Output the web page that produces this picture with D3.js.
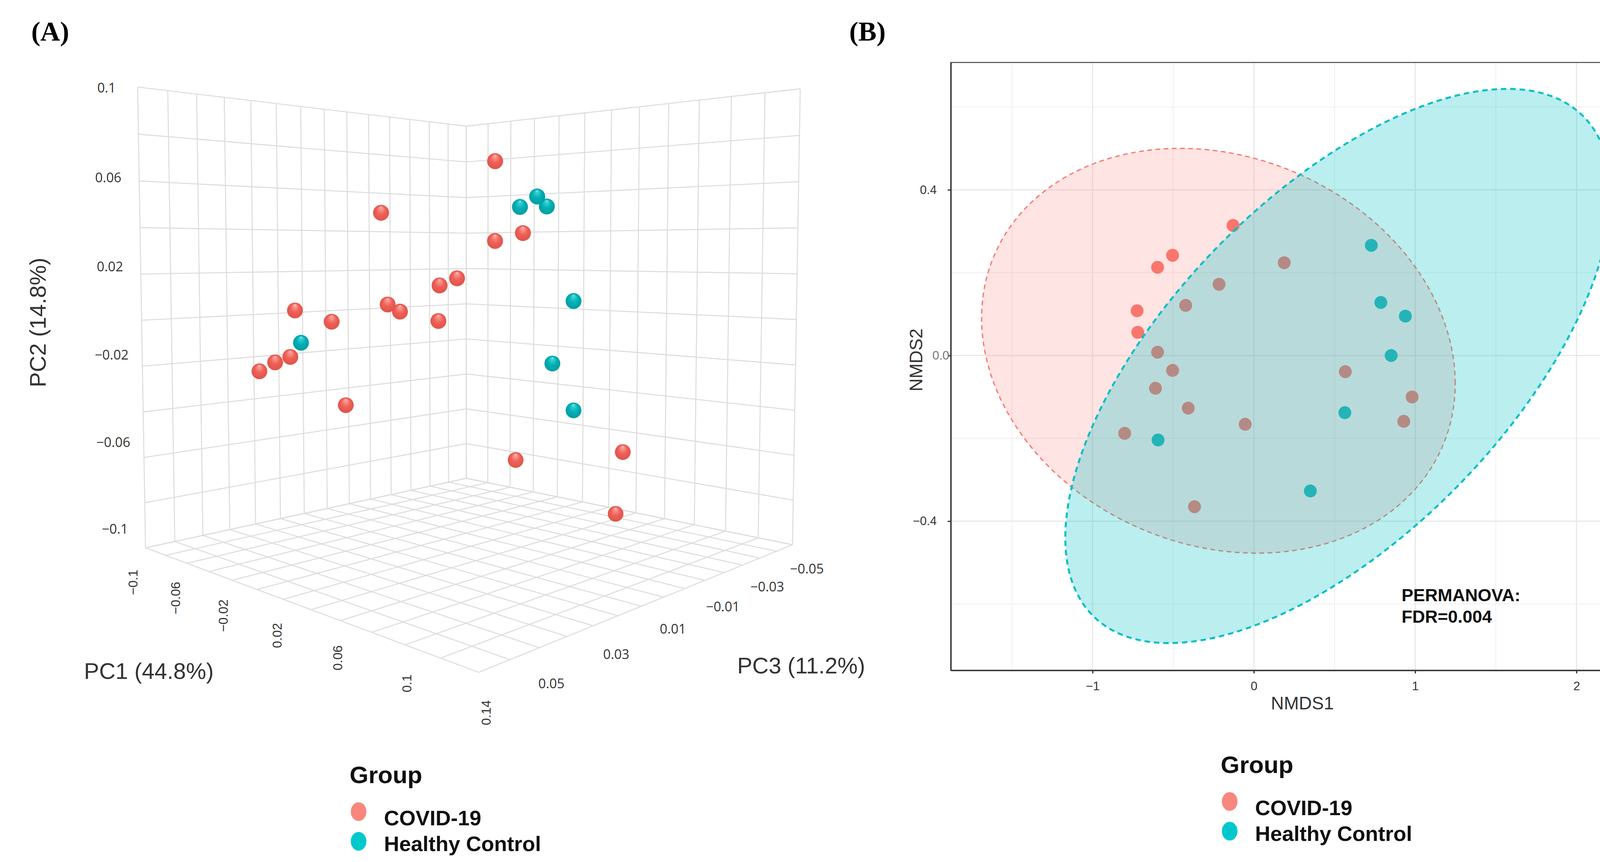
<!DOCTYPE html>
<html>
<head>
<meta charset="utf-8">
<script src="https://cdn.jsdelivr.net/npm/d3@7"></script>
<style>
  body { margin: 0; background: #fff; }
</style>
</head>
<body>
<svg id="fig" width="4244" height="2208"></svg>
<script>
'use strict'

// ---------- data ----------
const groups = ['COVID-19', 'Healthy Control']

// panel A: PCoA scores (PC1 44.8%, PC2 14.8%, PC3 11.2%)
const pcoaGroup = [
  'COVID-19', 'COVID-19', 'COVID-19', 'COVID-19', 'COVID-19', 'COVID-19',
  'COVID-19', 'COVID-19', 'COVID-19', 'COVID-19', 'COVID-19', 'COVID-19',
  'COVID-19', 'COVID-19', 'COVID-19', 'COVID-19', 'COVID-19', 'COVID-19',
  'Healthy Control', 'Healthy Control', 'Healthy Control', 'Healthy Control',
  'Healthy Control', 'Healthy Control', 'Healthy Control',
]
const pcoaPC1 = [
  -0.0132, 0.0149, 0.0084, -0.0455, -0.0109, -0.0064, 0.0079, -0.0319, -0.0474,
  -0.0531, -0.0590, -0.0268, 0.0290, 0.0394, 0.0290, 0.0771, 0.0369, 0.0746,
  -0.0433, 0.0446, 0.0382, 0.0482, 0.0583, 0.0505, 0.0585,
]
const pcoaPC2 = [
  0.0465, 0.0181, 0.0150, 0.0041, 0.0067, 0.0036, -0.0005, -0.0008, -0.0162,
  -0.0186, -0.0225, -0.0374, 0.0687, 0.0377, 0.0343, -0.0581, -0.0616, -0.0855,
  -0.0100, 0.0535, 0.0490, 0.0492, 0.0082, -0.0191, -0.0397,
]
const pcoaPC3 = [
  0.0188, 0.0054, 0.0085, 0.0341, 0.0177, 0.0155, 0.0087, 0.0276, 0.0350,
  0.0377, 0.0405, 0.0252, -0.0013, -0.0062, -0.0013, -0.0241, -0.0050, -0.0229,
  0.0331, -0.0087, -0.0057, -0.0104, -0.0152, -0.0115, -0.0153,
]
const pc1Ticks = [-0.1, -0.06, -0.02, 0.02, 0.06, 0.1, 0.14]
const pc2Ticks = [0.1, 0.06, 0.02, -0.02, -0.06, -0.1]
const pc3Ticks = [-0.05, -0.03, -0.01, 0.01, 0.03, 0.05]

// panel B: NMDS scores
const nmdsGroup = pcoaGroup
const nmds1 = [
  -0.129, -0.504, -0.597, -0.216, 0.188, -0.423, -0.724, -0.720, -0.597,
  -0.504, -0.610, -0.407, -0.801, -0.054, -0.368, 0.567, 0.981, 0.929,
  0.728, 0.787, 0.939, 0.851, 0.564, -0.594, 0.350,
]
const nmds2 = [
  0.314, 0.242, 0.213, 0.172, 0.224, 0.121, 0.108, 0.056, 0.008,
  -0.036, -0.079, -0.127, -0.188, -0.166, -0.365, -0.039, -0.100, -0.159,
  0.266, 0.128, 0.095, 0.000, -0.138, -0.204, -0.327,
]
// 95% ellipses: centre, half extents and correlation, per group
const ellipseCx = [-0.220, 0.522]
const ellipseCy = [0.0115, -0.0253]
const ellipseRx = [1.468, 1.691]
const ellipseRy = [0.4886, 0.669]
const ellipseRho = [-0.162, 0.62]
const nmds1Ticks = [-1, 0, 1, 2]
const nmds1Minor = [-1.5, -0.5, 0.5, 1.5]
const nmds2Ticks = [-0.4, 0, 0.4]
const nmds2Minor = [-0.6, -0.2, 0.2, 0.6]

// ---------- page ----------
const svg = d3.select('#fig')
svg.append('rect').attr('width', 4244).attr('height', 2208).attr('fill', '#fff')
const defs = svg.append('defs')

const minus = v => (v < 0 ? '\u2212' : '') + Math.abs(v)

svg.append('text').text('(A)')
  .attr('x', 80).attr('y', 104)
  .attr('font-family', 'Liberation Serif').attr('font-weight', 'bold').attr('font-size', 70)
svg.append('text').text('(B)')
  .attr('x', 2174).attr('y', 104)
  .attr('font-family', 'Liberation Serif').attr('font-weight', 'bold').attr('font-size', 70)

// ---------- panel A: 3D PCoA ----------
const pc1Scale = d3.scaleLinear().domain([-0.1, 0.14]).range([-1, 1])
const pc2Scale = d3.scaleLinear().domain([-0.1, 0.1]).range([-1, 1])
const pc3Scale = d3.scaleLinear().domain([-0.056, 0.062]).range([-1, 1])

// perspective camera looking at the back corner of the box
const cam = {azimuth: 44, pitch: 3.2, distance: 4.656, height: 0.3, fx: 2765, fy: 2744, cx: 1205, cy: 796}
const phi = cam.azimuth * Math.PI / 180
const tht = cam.pitch * Math.PI / 180
const eye = [cam.distance * Math.cos(phi), cam.distance * Math.sin(phi), cam.height]
const fwd = [-Math.cos(phi) * Math.cos(tht), -Math.sin(phi) * Math.cos(tht), -Math.sin(tht)]
const rgt = [-Math.sin(phi), Math.cos(phi), 0]
const upv = [-Math.cos(phi) * Math.sin(tht), -Math.sin(phi) * Math.sin(tht), Math.cos(tht)]
const dot = (a, b) => a[0] * b[0] + a[1] * b[1] + a[2] * b[2]

function project(w) {
  const r = [w[0] - eye[0], w[1] - eye[1], w[2] - eye[2]]
  const depth = dot(r, fwd)
  return {
    x: cam.cx + cam.fx * dot(r, rgt) / depth,
    y: cam.cy - cam.fy * dot(r, upv) / depth,
    depth: depth,
  }
}
// world axes: x = PC3, y = PC1, z = PC2
const toWorld = (p1, p2, p3) => [pc3Scale(p3), pc1Scale(p1), pc2Scale(p2)]

const pc1Grid = pc1Scale.ticks(12)
const pc2Grid = pc2Scale.ticks(10)
const pc3Dom = pc3Scale.domain()
const pc3Grid = d3.range(15).map(i => pc3Dom[0] + i * (pc3Dom[1] - pc3Dom[0]) / 14)

const segs = []
pc3Grid.forEach(v => {
  const x = pc3Scale(v)
  segs.push([[x, -1, -1], [x, -1, 1]])   // left wall
  segs.push([[x, -1, -1], [x, 1, -1]])   // floor
})
pc1Grid.forEach(v => {
  const y = pc1Scale(v)
  segs.push([[-1, y, -1], [-1, y, 1]])   // right wall
  segs.push([[-1, y, -1], [1, y, -1]])   // floor
})
pc2Grid.forEach(v => {
  const z = pc2Scale(v)
  segs.push([[-1, -1, z], [1, -1, z]])
  segs.push([[-1, -1, z], [-1, 1, z]])
})

const gA = svg.append('g').attr('class', 'panel-a')
gA.append('g').selectAll('line')
  .data(segs)
  .join('line')
  .attr('x1', d => project(d[0]).x).attr('y1', d => project(d[0]).y)
  .attr('x2', d => project(d[1]).x).attr('y2', d => project(d[1]).y)
  .attr('stroke', '#dcdcdc').attr('stroke-width', 2.6)

// sphere shading
const sphereStops = [
  ['#ffffff', '#f9a39c', '#ef6158', '#e0534a'],
  ['#ffffff', '#45d6d9', '#00b0b5', '#009ca1'],
]
groups.forEach((g, i) => {
  const grad = defs.append('radialGradient').attr('id', 'sphere' + i)
    .attr('cx', '50%').attr('cy', '50%').attr('r', '50%')
    .attr('fx', '50%').attr('fy', '14%')
  const s = sphereStops[i]
  grad.append('stop').attr('offset', '0').attr('stop-color', s[0])
  grad.append('stop').attr('offset', '0.09').attr('stop-color', s[1])
  grad.append('stop').attr('offset', '0.55').attr('stop-color', s[2])
  grad.append('stop').attr('offset', '1').attr('stop-color', s[3])
})

const sphereRadius = 0.0345
const pts = pcoaPC1.map((p1, i) => {
  const pr = project(toWorld(p1, pcoaPC2[i], pcoaPC3[i]))
  return {x: pr.x, y: pr.y, depth: pr.depth, g: groups.indexOf(pcoaGroup[i])}
}).sort((a, b) => b.depth - a.depth)

gA.append('g').selectAll('circle')
  .data(pts)
  .join('circle')
  .attr('cx', d => d.x).attr('cy', d => d.y)
  .attr('r', d => cam.fy * sphereRadius / d.depth)
  .attr('fill', d => 'url(#sphere' + d.g + ')')

// tick labels, anchored just outside the box edges
gA.append('g').selectAll('text')
  .data(pc2Ticks)
  .join('text')
  .each(function (v) {
    const p = project([1, -1.3, pc2Scale(v)])
    d3.select(this).attr('x', p.x + 8).attr('y', p.y - 17)
  })
  .attr('text-anchor', 'middle').attr('dominant-baseline', 'central')
  .attr('font-family', 'Open Sans').attr('font-size', 34).attr('fill', '#333')
  .text(minus)

gA.append('g').selectAll('text')
  .data(pc1Ticks)
  .join('text')
  .attr('transform', v => {
    const w = pc1Scale(v)
    const p = project([1.03, 1.06 * w, -1.13 + 0.03 * w])
    return 'translate(' + p.x + ',' + p.y + ') rotate(-90)'
  })
  .attr('text-anchor', 'middle').attr('dominant-baseline', 'central')
  .attr('font-family', 'Liberation Sans').attr('font-size', 33).attr('fill', '#333')
  .text(minus)

gA.append('g').selectAll('text')
  .data(pc3Ticks)
  .join('text')
  .each(function (v) {
    const p = project([pc3Scale(v), 1.12, -1.06])
    d3.select(this).attr('x', p.x).attr('y', p.y)
  })
  .attr('text-anchor', 'middle').attr('dominant-baseline', 'central')
  .attr('font-family', 'Open Sans').attr('font-size', 34).attr('fill', '#333')
  .text(minus)

// axis titles
const titleA = {'font-family': 'Liberation Sans', 'font-size': 58, 'fill': '#333'}
function styled(sel, st) {
  Object.keys(st).forEach(k => sel.attr(k, st[k]))
  return sel
}
styled(gA.append('text'), titleA).text('PC2 (14.8%)')
  .attr('text-anchor', 'middle').attr('dominant-baseline', 'central')
  .attr('transform', 'translate(96,826) rotate(-90)')
styled(gA.append('text'), titleA).text('PC1 (44.8%)')
  .attr('text-anchor', 'middle').attr('dominant-baseline', 'central')
  .attr('x', 381).attr('y', 1718)
styled(gA.append('text'), titleA).text('PC3 (11.2%)')
  .attr('text-anchor', 'middle').attr('dominant-baseline', 'central')
  .attr('x', 2051).attr('y', 1704)

// ---------- panel B: NMDS ----------
const xB = d3.scaleLinear().domain([-1.879, 2.429]).range([2434, 4213])
const yB = d3.scaleLinear().domain([-0.760, 0.7075]).range([1717, 160])
const groupColor = d3.scaleOrdinal().domain(groups).range(['#f8766d', '#00bfc4'])

const gB = svg.append('g').attr('class', 'panel-b')
const grid = gB.append('g')
grid.selectAll('.vminor').data(nmds1Minor).join('line')
  .attr('x1', d => xB(d)).attr('x2', d => xB(d)).attr('y1', yB.range()[0]).attr('y2', yB.range()[1])
  .attr('stroke', '#efefef').attr('stroke-width', 2)
grid.selectAll('.hminor').data(nmds2Minor).join('line')
  .attr('y1', d => yB(d)).attr('y2', d => yB(d)).attr('x1', xB.range()[0]).attr('x2', xB.range()[1])
  .attr('stroke', '#efefef').attr('stroke-width', 2)
grid.selectAll('.vmajor').data(nmds1Ticks).join('line')
  .attr('x1', d => xB(d)).attr('x2', d => xB(d)).attr('y1', yB.range()[0]).attr('y2', yB.range()[1])
  .attr('stroke', '#e8e8e8').attr('stroke-width', 3)
grid.selectAll('.hmajor').data(nmds2Ticks).join('line')
  .attr('y1', d => yB(d)).attr('y2', d => yB(d)).attr('x1', xB.range()[0]).attr('x2', xB.range()[1])
  .attr('stroke', '#e8e8e8').attr('stroke-width', 3)

gB.append('g').selectAll('circle')
  .data(nmds1.map((v, i) => ({x: v, y: nmds2[i], g: nmdsGroup[i]})))
  .join('circle')
  .attr('cx', d => xB(d.x)).attr('cy', d => yB(d.y)).attr('r', 16.5)
  .attr('fill', d => groupColor(d.g))

// ellipses drawn over the points, as in the original
const ellipseLine = d3.line().x(d => xB(d[0])).y(d => yB(d[1])).curve(d3.curveLinearClosed)
const angles = d3.range(0, 2 * Math.PI, Math.PI / 180)
const ellipseFill = [0.2, 0.27]
const ellipseDash = [[12, 9], [14, 10]]
const ellipseWidth = [3.2, 5]
groups.forEach((g, i) => {
  const s = Math.sqrt(1 - ellipseRho[i] * ellipseRho[i])
  const ring = angles.map(t => [
    ellipseCx[i] + ellipseRx[i] * Math.cos(t),
    ellipseCy[i] + ellipseRy[i] * (ellipseRho[i] * Math.cos(t) + s * Math.sin(t)),
  ])
  gB.append('path')
    .attr('d', ellipseLine(ring))
    .attr('fill', groupColor(g)).attr('fill-opacity', ellipseFill[i])
    .attr('stroke', groupColor(g)).attr('stroke-width', ellipseWidth[i])
    .attr('stroke-dasharray', ellipseDash[i].join(' '))
})

// frame and axes
gB.append('rect')
  .attr('x', xB.range()[0]).attr('y', yB.range()[1])
  .attr('width', xB.range()[1] - xB.range()[0]).attr('height', yB.range()[0] - yB.range()[1])
  .attr('fill', 'none').attr('stroke', '#444').attr('stroke-width', 2.5)

const axB = gB.append('g').attr('transform', 'translate(0,' + yB.range()[0] + ')')
  .call(d3.axisBottom(xB).tickValues(nmds1Ticks).tickFormat(d3.format('d'))
    .tickSize(8).tickSizeOuter(0).tickPadding(21))
const ayB = gB.append('g').attr('transform', 'translate(' + xB.range()[0] + ',0)')
  .call(d3.axisLeft(yB).tickValues(nmds2Ticks).tickFormat(d3.format('.1f'))
    .tickSize(8).tickSizeOuter(0).tickPadding(28))
;[axB, ayB].forEach(a => {
  a.select('.domain').attr('stroke', '#333').attr('stroke-width', 3.5)
  a.selectAll('.tick line').attr('stroke', '#333').attr('stroke-width', 3)
  a.selectAll('.tick text').attr('font-family', 'Liberation Sans').attr('font-size', 31).attr('fill', '#333')
})
// in the original the 0.0 label sits on the axis line, in grey
ayB.selectAll('.tick text').filter(d => d === 0)
  .attr('x', -4).attr('fill', '#777')

gB.append('text').text('NMDS1')
  .attr('x', 3334).attr('y', 1817).attr('text-anchor', 'middle')
  .attr('font-family', 'Liberation Sans').attr('font-size', 46).attr('fill', '#333')
gB.append('text').text('NMDS2')
  .attr('transform', 'translate(2361,922) rotate(-90)').attr('text-anchor', 'middle')
  .attr('font-family', 'Liberation Sans').attr('font-size', 46).attr('fill', '#333')

const boldFont = 'Liberation Sans'
gB.append('text').text('PERMANOVA:')
  .attr('x', 3588).attr('y', 1540)
  .attr('font-family', boldFont).attr('font-weight', 700).attr('font-size', 45).attr('fill', '#111')
gB.append('text').text('FDR=0.004')
  .attr('x', 3588).attr('y', 1595)
  .attr('font-family', boldFont).attr('font-weight', 700).attr('font-size', 45).attr('fill', '#111')

// ---------- legends ----------
const legendColor = ['#f8877e', '#00c8cc']
function legend(x, y) {
  const g = svg.append('g').attr('transform', 'translate(' + x + ',' + y + ')')
  g.append('text').text('Group')
    .attr('x', 0).attr('y', 0)
    .attr('font-family', boldFont).attr('font-weight', 700).attr('font-size', 62).attr('fill', '#111')
  const rowY = [108, 174]
  const dotY = [73, 149]
  groups.forEach((name, i) => {
    g.append('ellipse')
      .attr('cx', 23).attr('cy', dotY[i]).attr('rx', 20).attr('ry', 24)
      .attr('fill', legendColor[i])
    g.append('text').text(name)
      .attr('x', 88).attr('y', rowY[i])
      .attr('font-family', boldFont).attr('font-weight', 700).attr('font-size', 54).attr('fill', '#111')
  })
}
legend(895, 2006)
legend(3125, 1980)
</script>
</body>
</html>
